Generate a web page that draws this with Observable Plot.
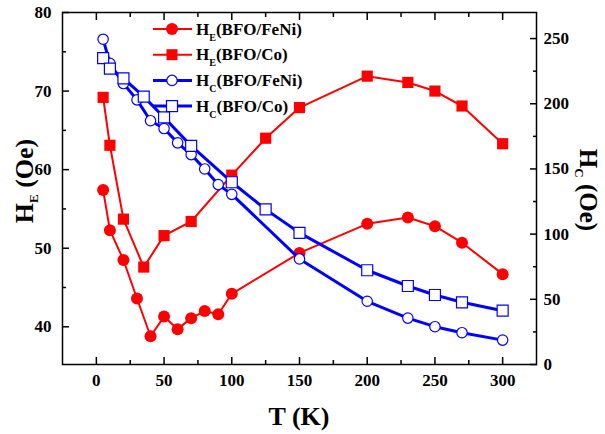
<!DOCTYPE html>
<html><head><meta charset="utf-8">
<script src="https://cdn.jsdelivr.net/npm/d3@7"></script>
<script src="https://cdn.jsdelivr.net/npm/@observablehq/plot@0.6"></script>
<style>
body{margin:0;background:#fff;}
#chart svg, #chart svg text{font-family:"Liberation Serif","Times New Roman","DejaVu Serif",serif !important;}
</style>
</head><body><div id="chart"></div>
<script>
// ---- data ----
const T_FeNi  = [5,10,20,30,40,50,60,70,80,90,100,150,200,230,250,270,300];
const HE_FeNi = [57.4,52.3,48.5,43.6,38.8,41.3,39.7,41.1,42.0,41.6,44.2,49.4,53.1,53.9,52.8,50.7,46.7];
const HC_FeNi = [249.5,231,215.5,203,187,181,170,161,150,138,130.5,81,48.5,35.6,29,24.4,18.7];
const T_Co    = [5,10,20,35,50,70,100,125,150,200,230,250,270,300];
const HE_Co   = [69.2,63.1,53.7,47.6,51.6,53.4,59.3,64.0,67.9,71.9,71.1,70.0,68.1,63.3];
const HC_Co   = [235,227,219.5,205.5,189.5,167.7,139.8,119,101,72.3,60.2,53.3,47.7,41.3];

const xMajor  = [0,50,100,150,200,250,300];
const xMinor  = [25,75,125,175,225,275];
const yMajor  = [40,50,60,70,80];
const yMinor  = [45,55,65,75];
const y2Major = [0,50,100,150,200,250];
const y2Minor = [25,75,125,175,225];

const legendItems = [
  {sub:"E", name:"(BFO/FeNi)", color:"#ff0000", symbol:"circle", filled:true},
  {sub:"E", name:"(BFO/Co)",   color:"#ff0000", symbol:"square", filled:true},
  {sub:"C", name:"(BFO/FeNi)", color:"#0000ff", symbol:"circle", filled:false},
  {sub:"C", name:"(BFO/Co)",   color:"#0000ff", symbol:"square", filled:false}
];

// ---- layout ----
const W = 605, H = 434;
const mL = 62, mR = 69, mT = 12, mB = 70;
const xDomain = [-25, 325], yDomain = [35.2, 80], y2Domain = [0, 270];
const toY  = v => yDomain[0] + (v - y2Domain[0]) * (yDomain[1] - yDomain[0]) / (y2Domain[1] - y2Domain[0]);
const fromY = d => Math.round(y2Domain[0] + (d - yDomain[0]) * (y2Domain[1] - y2Domain[0]) / (yDomain[1] - yDomain[0]));

const feni = T_FeNi.map((t, i) => ({T: t, he: HE_FeNi[i], hc: toY(HC_FeNi[i])}));
const co   = T_Co.map((t, i) => ({T: t, he: HE_Co[i], hc: toY(HC_Co[i])}));

const RED = "#ff0000", BLUE = "#0000ff";
const FONT = "Liberation Serif, Times New Roman, DejaVu Serif, serif";
const tickStyle = {fill: "none", label: null, stroke: "black", strokeWidth: 1.5};
const textStyle = {tickSize: 0, label: null, fontSize: 17, fontWeight: "bold", fill: "black", fontFamily: FONT};

const chart = Plot.plot({
  width: W, height: H,
  marginLeft: mL, marginRight: mR, marginTop: mT, marginBottom: mB,
  x: {domain: xDomain},
  y: {domain: yDomain},
  style: {fontFamily: FONT, background: "white", color: "black"},
  marks: [
    // inward ticks
    Plot.axisX(xMajor, {anchor: "bottom", tickSize: -7, ...tickStyle}),
    Plot.axisX(xMinor, {anchor: "bottom", tickSize: -4, ...tickStyle}),
    Plot.axisX(xMajor, {anchor: "top", tickSize: -7, ...tickStyle}),
    Plot.axisX(xMinor, {anchor: "top", tickSize: -4, ...tickStyle}),
    Plot.axisY(yMajor, {anchor: "left", tickSize: -7, ...tickStyle}),
    Plot.axisY(yMinor, {anchor: "left", tickSize: -4, ...tickStyle}),
    Plot.axisY(y2Major.map(toY), {anchor: "right", tickSize: -7, ...tickStyle}),
    Plot.axisY(y2Minor.map(toY), {anchor: "right", tickSize: -4, ...tickStyle}),
    // tick labels
    Plot.axisX(xMajor, {anchor: "bottom", tickPadding: 9, ...textStyle}),
    Plot.axisY(yMajor, {anchor: "left", tickPadding: 11, ...textStyle}),
    Plot.axisY(y2Major.map(toY), {anchor: "right", tickPadding: 7, tickFormat: fromY, ...textStyle}),
    Plot.frame({stroke: "black", strokeWidth: 1.5}),
    // H_E series
    Plot.line(feni, {x: "T", y: "he", stroke: RED, strokeWidth: 2}),
    Plot.dot(feni, {x: "T", y: "he", r: 6, fill: RED, symbol: "circle"}),
    Plot.line(co, {x: "T", y: "he", stroke: RED, strokeWidth: 2}),
    Plot.dot(co, {x: "T", y: "he", r: 6.3, fill: RED, symbol: "square"}),
    // H_C series
    Plot.line(feni, {x: "T", y: "hc", stroke: BLUE, strokeWidth: 3}),
    Plot.dot(feni, {x: "T", y: "hc", r: 5.2, fill: "white", stroke: BLUE, strokeWidth: 1.2, symbol: "circle"}),
    Plot.line(co, {x: "T", y: "hc", stroke: BLUE, strokeWidth: 3}),
    Plot.dot(co, {x: "T", y: "hc", r: 6.2, fill: "white", stroke: BLUE, strokeWidth: 1.2, symbol: "square"})
  ]
});
document.getElementById("chart").appendChild(chart);

// ---- titles & legend (text with subscripts) ----
const svg = d3.select(chart);
const cx = (mL + W - mR) / 2, cy = (mT + H - mB) / 2;

svg.append("text")
  .attr("x", cx).attr("y", 425)
  .attr("text-anchor", "middle").attr("font-family", FONT)
  .attr("font-size", 26).attr("font-weight", "bold").attr("fill", "black")
  .text("T (K)");

function subTitle(x, y, rot, size, main, sub, rest) {
  const t = svg.append("text")
    .attr("transform", `translate(${x},${y}) rotate(${rot})`)
    .attr("text-anchor", "middle").attr("font-family", FONT)
    .attr("font-size", size).attr("font-weight", "bold").attr("fill", "black");
  t.append("tspan").text(main);
  t.append("tspan").attr("font-size", 13).attr("dy", 5).text(sub);
  t.append("tspan").attr("dy", -5).text(rest);
}
subTitle(33, cy - 7, -90, 26, "H", "E", " (Oe)");
subTitle(580, cy + 2, 90, 25, "H", "C", " (Oe)");

const lg = svg.append("g");
legendItems.forEach((d, i) => {
  const y = 29 + i * 25.7;
  lg.append("line").attr("x1", 153).attr("x2", 192).attr("y1", y).attr("y2", y)
    .attr("stroke", d.color).attr("stroke-width", d.filled ? 2 : 3);
  if (d.symbol === "circle") {
    lg.append("circle").attr("cx", 172).attr("cy", y).attr("r", d.filled ? 6 : 5.2)
      .attr("fill", d.filled ? d.color : "white").attr("stroke", d.filled ? "none" : d.color).attr("stroke-width", 1.2);
  } else {
    const s = 11;
    lg.append("rect").attr("x", 172 - s / 2).attr("y", y - s / 2).attr("width", s).attr("height", s)
      .attr("fill", d.filled ? d.color : "white").attr("stroke", d.filled ? "none" : d.color).attr("stroke-width", 1.2);
  }
  const t = lg.append("text").attr("x", 196).attr("y", y + 5.5).attr("text-anchor", "start")
    .attr("font-family", FONT).attr("font-size", 17).attr("font-weight", "bold").attr("fill", "black");
  t.append("tspan").text("H");
  t.append("tspan").attr("font-size", 10).attr("dy", 6).text(d.sub);
  t.append("tspan").attr("dy", -6).text(d.name);
});
</script>
</body></html>
